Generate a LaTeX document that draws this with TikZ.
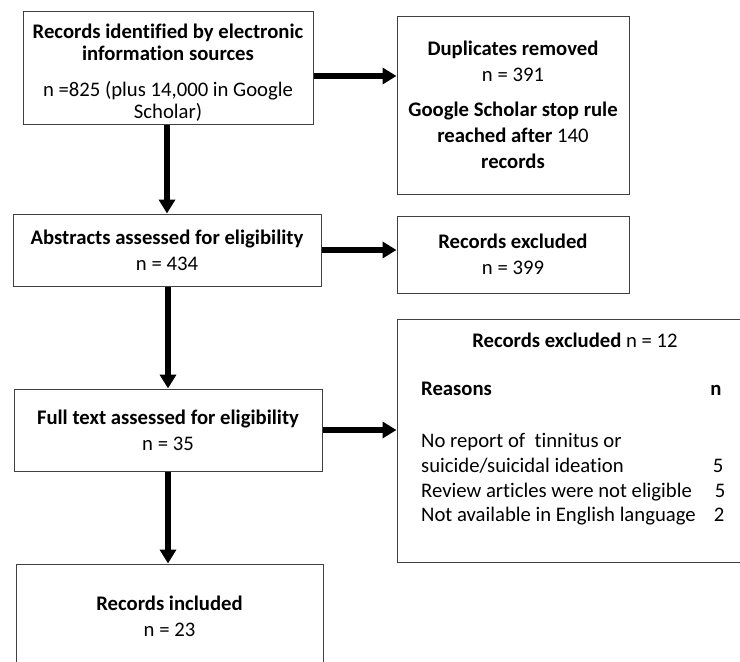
\documentclass[tikz,border=0pt]{standalone}
\usepackage{fontspec}
\setmainfont{Carlito}[Ligatures=NoCommon]
\usetikzlibrary{arrows.meta}
\usetikzlibrary{calc}

\begin{document}
\begin{tikzpicture}[
    x=1pt, y=-1pt,
    box/.style={
        rectangle,
        draw=black!75,
        line width=1pt,
        align=center,
        inner sep=2pt,
        font=\fontsize{20.7}{26}\selectfont,
        },
    mylabel/.style={
        inner sep=0pt,
        font=\fontsize{20.7}{26}\selectfont,
        },
    ArrowF/.style={
        line width=5.5pt,
        -{Triangle[length=14pt,width=16pt]},
        },
    ]

    \clip (0,0) rectangle (740,662);

    % left column
    \node [box, minimum width=290, minimum height=113,
        font=\fontsize{20.7}{22.5}\selectfont] (src) at (168,67.5)
        {\rule{0pt}{25pt}\textbf{Records identified by electronic}\\
         \textbf{information sources}\\[13pt]
         n =825 (plus 14,000 in Google\\ Scholar)};
    \node [box, minimum width=308, minimum height=72] (abs) at (167,250)
        {\textbf{Abstracts assessed for eligibility}\\ n = 434};
    \node [box, minimum width=308, minimum height=82] (full) at (168,430)
        {\textbf{Full text assessed for eligibility}\\ n = 35};
    \node [box, minimum width=307, minimum height=104] (inc) at (169.5,616)
        {\textbf{Records included}\\ n = 23};

    % right column
    \node [box, minimum width=232, minimum height=178] (dup) at (513,105)
        {\textbf{Duplicates removed}\\ n = 391\\[9pt]
         \textbf{Google Scholar stop rule}\\
         \textbf{reached after} 140\\ \textbf{records}};
    \node [box, minimum width=232, minimum height=77] (exc1) at (513,254.5)
        {\textbf{Records excluded}\\ n = 399};
    \node [box, minimum width=355, minimum height=243] (exc2) at (574.5,440.5) {};

    \node [mylabel, anchor=base] (exctitle) at (575,347)
        {\textbf{Records excluded} n = 12};
    \node [mylabel, anchor=base west] (reasons) at (421,395) {\textbf{Reasons}};
    \node [mylabel, anchor=base] (ncol) at (716,395) {\textbf{n}};
    \node [mylabel, anchor=base west] (why1) at (421,447) {No report of\ \ tinnitus or};
    \node [mylabel, anchor=base west] (why2) at (421,472) {suicide/suicidal ideation};
    \node [mylabel, anchor=base west] (why3) at (421,497) {Review articles were not eligible};
    \node [mylabel, anchor=base west] (why4) at (421,521) {Not available in English language};
    \node [mylabel, anchor=base] (cnt2) at (718,472) {5};
    \node [mylabel, anchor=base] (cnt3) at (720,497) {5};
    \node [mylabel, anchor=base] (cnt4) at (719,521) {2};

    \coordinate (srcout) at ([yshift=-8.5pt]src.east);

    \draw [ArrowF] (srcout) -- (srcout -| dup.west);
    \draw [ArrowF] (abs.east) -- (abs.east -| exc1.west);
    \draw [ArrowF] (full.east) -- (full.east -| exc2.west);

    \draw [ArrowF] (src.south -| abs.north) -- (abs.north);
    \draw [ArrowF] (abs.south -| full.north) -- (full.north);
    \draw [ArrowF] (full.south) -- (full.south |- inc.north);

\end{tikzpicture}
\end{document}
